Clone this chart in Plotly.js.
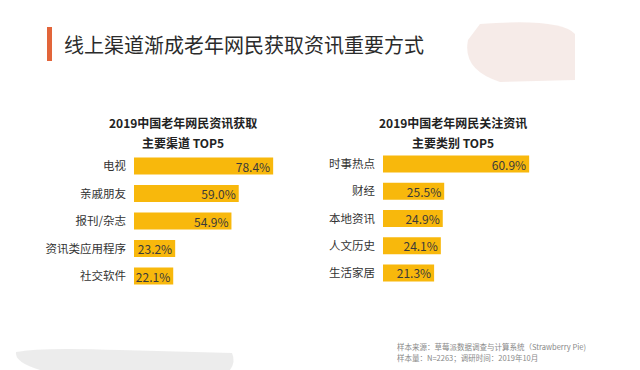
<!DOCTYPE html>
<html>
<head>
<meta charset="utf-8">
<script src="https://cdn.plot.ly/plotly-3.0.1.min.js"></script>
<style>html,body{margin:0;padding:0;background:#fff;}#chart{width:640px;height:370px;}</style>
</head>
<body>
<div id="chart"></div>
<script>
const mainTitle = '线上渠道渐成老年网民获取资讯重要方式';
const leftTitle = ['2019中国老年网民资讯获取', '主要渠道 TOP5'];
const leftCats = ['电视', '亲戚朋友', '报刊/杂志', '资讯类应用程序', '社交软件'];
const leftVals = [78.4, 59.0, 54.9, 23.2, 22.1];
const rightTitle = ['2019中国老年网民关注资讯', '主要类别 TOP5'];
const rightCats = ['时事热点', '财经', '本地资讯', '人文历史', '生活家居'];
const rightVals = [60.9, 25.5, 24.9, 24.1, 21.3];
const sourceLines = ['样本来源：草莓派数据调查与计算系统（Strawberry Pie)', '样本量：N=2263；调研时间：2019年10月'];

const FONT = '"Noto Sans CJK SC", "Noto Sans", sans-serif';
const BAR = '#F8B80C';
const W = 640, H = 370;
const px = x => x / W;
const py = y => 1 - y / H;

function barTrace(cats, vals, xa, ya) {
  return {
    type: 'bar', orientation: 'h',
    y: cats, x: vals, xaxis: xa, yaxis: ya,
    marker: {color: BAR},
    width: 0.62,
    text: vals.map(v => v.toFixed(1) + '%'),
    textposition: 'inside', insidetextanchor: 'end',
    constraintext: 'none',
    insidetextfont: {family: FONT, size: 12, color: '#3a3a3a'},
    hoverinfo: 'skip', showlegend: false, cliponaxis: false
  };
}

const yCommon = {
  type: 'category', autorange: 'reversed', showgrid: false, zeroline: false,
  showline: false, ticks: '', ticklabelstandoff: 7,
  tickfont: {family: FONT, size: 11.5, color: '#333'}
};
const xCommon = {showgrid: false, zeroline: false, showline: false, showticklabels: false, ticks: '', fixedrange: true};

const layout = {
  width: W, height: H,
  margin: {l: 0, r: 0, t: 0, b: 0},
  paper_bgcolor: '#fff', plot_bgcolor: 'rgba(0,0,0,0)',
  font: {family: FONT},
  bargap: 0.38,
  xaxis: Object.assign({}, xCommon, {domain: [px(134), px(300)], range: [0, 166 / 1.775], anchor: 'y'}),
  yaxis: Object.assign({}, yCommon, {domain: [py(289.75), py(152.25)], anchor: 'x'}),
  xaxis2: Object.assign({}, xCommon, {domain: [px(383), px(560)], range: [0, 177 / 2.4], anchor: 'y2'}),
  yaxis2: Object.assign({}, yCommon, {domain: [py(286.6), py(150.4)], anchor: 'x2'}),
  shapes: [
    {type: 'rect', xref: 'paper', yref: 'paper', x0: px(47), x1: px(52), y0: py(61), y1: py(27), fillcolor: '#E2653A', line: {width: 0}},
    {type: 'path', xref: 'paper', yref: 'paper', layer: 'below',
     path: `M ${px(480)} ${py(24)} Q ${px(560)} ${py(18)} ${px(575)} ${py(34)} L ${px(575)} ${py(80)} L ${px(500)} ${py(82)} Q ${px(462)} ${py(70)} ${px(468)} ${py(40)} Z`,
     fillcolor: 'rgba(238,218,214,0.55)', line: {width: 0}},
    {type: 'path', xref: 'paper', yref: 'paper', layer: 'below',
     path: `M ${px(16)} ${py(352)} Q ${px(40)} ${py(347)} ${px(120)} ${py(350)} L ${px(232)} ${py(353)} Q ${px(236)} ${py(362)} ${px(230)} ${py(370)} L ${px(40)} ${py(370)} Q ${px(14)} ${py(362)} ${px(16)} ${py(352)} Z`,
     fillcolor: 'rgba(200,200,200,0.35)', line: {width: 0}}
  ],
  annotations: [
    {xref: 'paper', yref: 'paper', x: px(62), y: py(44), xanchor: 'left', yanchor: 'middle', showarrow: false,
     text: mainTitle, font: {family: FONT, size: 20, color: '#2b2b2b'}},
    {xref: 'paper', yref: 'paper', x: px(183), y: py(123), xanchor: 'center', yanchor: 'middle', showarrow: false,
     text: '<b>' + leftTitle[0] + '</b>', font: {family: FONT, size: 12, color: '#222'}},
    {xref: 'paper', yref: 'paper', x: px(183), y: py(142), xanchor: 'center', yanchor: 'middle', showarrow: false,
     text: '<b>' + leftTitle[1] + '</b>', font: {family: FONT, size: 12, color: '#222'}},
    {xref: 'paper', yref: 'paper', x: px(453), y: py(123), xanchor: 'center', yanchor: 'middle', showarrow: false,
     text: '<b>' + rightTitle[0] + '</b>', font: {family: FONT, size: 12, color: '#222'}},
    {xref: 'paper', yref: 'paper', x: px(453), y: py(142), xanchor: 'center', yanchor: 'middle', showarrow: false,
     text: '<b>' + rightTitle[1] + '</b>', font: {family: FONT, size: 12, color: '#222'}},
    {xref: 'paper', yref: 'paper', x: px(395), y: py(346), xanchor: 'left', yanchor: 'middle', showarrow: false,
     text: sourceLines[0], font: {family: FONT, size: 7.5, color: '#888'}},
    {xref: 'paper', yref: 'paper', x: px(395), y: py(357), xanchor: 'left', yanchor: 'middle', showarrow: false,
     text: sourceLines[1], font: {family: FONT, size: 7.5, color: '#888'}}
  ]
};

Plotly.newPlot('chart', [
  barTrace(leftCats, leftVals, 'x', 'y'),
  barTrace(rightCats, rightVals, 'x2', 'y2')
], layout, {staticPlot: true, displayModeBar: false});
</script>
</body>
</html>
